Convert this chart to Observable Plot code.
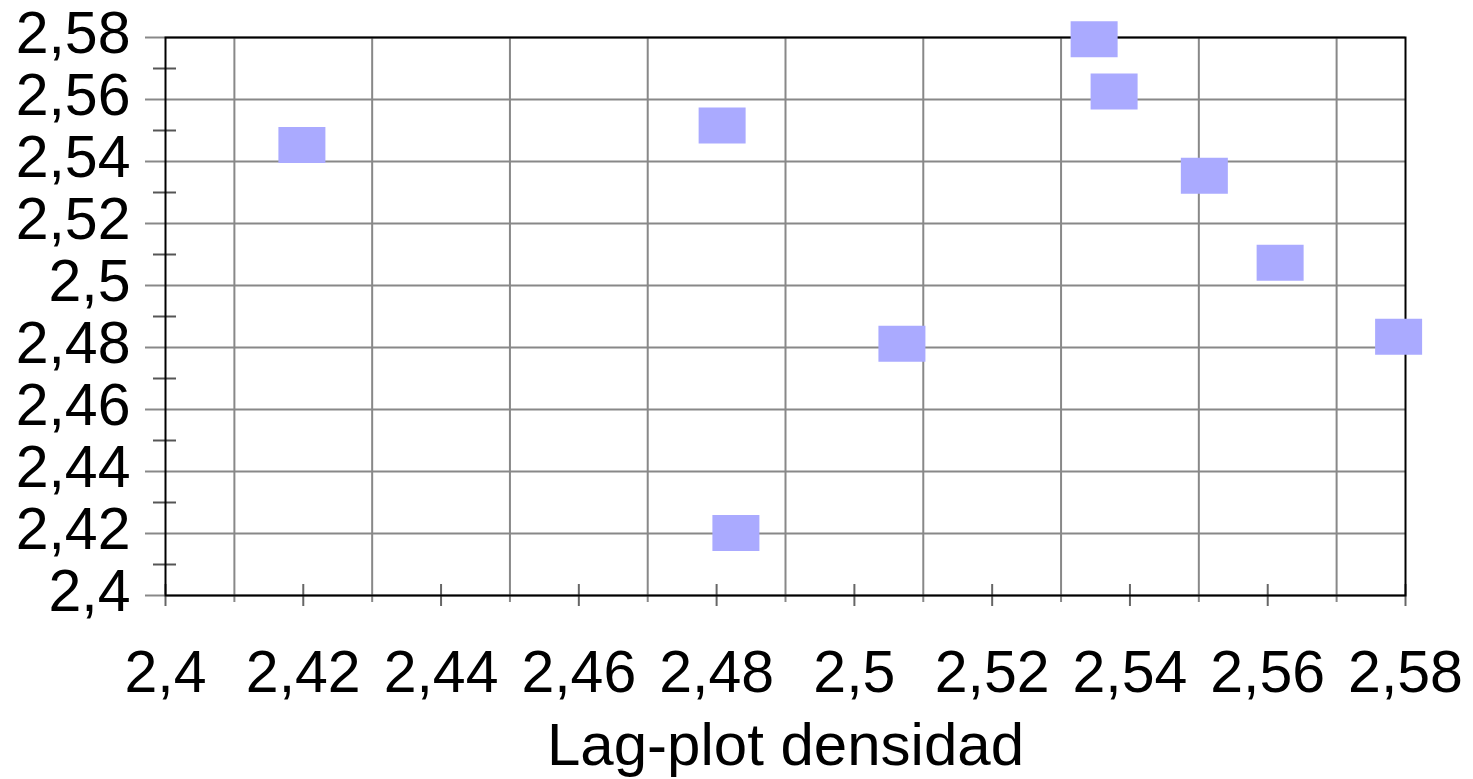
<!DOCTYPE html>
<html><head><meta charset="utf-8">
<script src="https://cdn.jsdelivr.net/npm/d3@7"></script>
<script src="https://cdn.jsdelivr.net/npm/@observablehq/plot@0.6"></script>
<style>body{margin:0;background:#fff;overflow:hidden}</style>
</head><body><div id="chart"></div>
<script>
// Lag-plot values (x = value at t, y = value at t+1)
const xValues = [2.4198, 2.4808, 2.5348, 2.5377, 2.5508, 2.5618, 2.5790, 2.5069, 2.4828];
const yValues = [2.5453, 2.5516, 2.5794, 2.5626, 2.5354, 2.5073, 2.4835, 2.4812, 2.4202];
const labeledTicks = [2.40, 2.42, 2.44, 2.46, 2.48, 2.50, 2.52, 2.54, 2.56, 2.58];
const oddTicks = [2.41, 2.43, 2.45, 2.47, 2.49, 2.51, 2.53, 2.55, 2.57];
const xTitle = "Lag-plot densidad";

const data = xValues.map((x, i) => ({x, y: yValues[i]}));
const fmt = d => String(+d.toFixed(2)).replace(".", ",");
const rectSymbol = {draw(ctx) { ctx.rect(-23.5, -18, 47, 36); }};

const chart = Plot.plot({
  width: 1473,
  height: 779,
  marginLeft: 165,
  marginRight: 68,
  marginTop: 37,
  marginBottom: 184,
  x: {domain: [2.4, 2.58]},
  y: {domain: [2.4, 2.58]},
  style: {fontFamily: "'Liberation Sans', Arial, sans-serif", background: "#fff", color: "#000"},
  marks: [
    Plot.gridX(oddTicks, {stroke: "#888", strokeOpacity: 1, strokeWidth: 2}),
    Plot.gridY(labeledTicks, {stroke: "#888", strokeOpacity: 1, strokeWidth: 2}),
    // x axis: gridline stubs below the axis
    Plot.axisX(oddTicks, {tickSize: 7, fill: "none", stroke: "#888", strokeWidth: 2, label: null}),
    // x axis: crossing ticks at labelled values
    Plot.axisX(labeledTicks, {tickSize: 22, dy: -11, fill: "none", stroke: "#666", strokeWidth: 2, label: null}),
    // x axis labels
    Plot.axisX(labeledTicks, {tickSize: 0, tickPadding: 55, tickFormat: fmt, fontSize: 59, label: null}),
    // y axis: gridline stubs left of the axis
    Plot.axisY(labeledTicks, {tickSize: 20, fill: "none", stroke: "#888", strokeWidth: 2, label: null}),
    // y axis labels
    Plot.axisY(labeledTicks, {tickSize: 0, tickPadding: 35, tickFormat: fmt, fontSize: 59, dy: -3, label: null}),
    // y axis: minor crossing ticks
    Plot.axisY(oddTicks, {tickSize: 23, dx: 11, fill: "none", stroke: "#555", strokeWidth: 2, label: null}),
    Plot.frame({stroke: "#000", strokeWidth: 2}),
    Plot.dot(data, {x: "x", y: "y", symbol: rectSymbol, fill: "#aaaaff", stroke: "none"}),
    Plot.text([xTitle], {frameAnchor: "bottom", dy: 150, lineAnchor: "middle", fontSize: 60, fill: "#000"})
  ]
});
document.getElementById("chart").appendChild(chart);
</script>
</body></html>
